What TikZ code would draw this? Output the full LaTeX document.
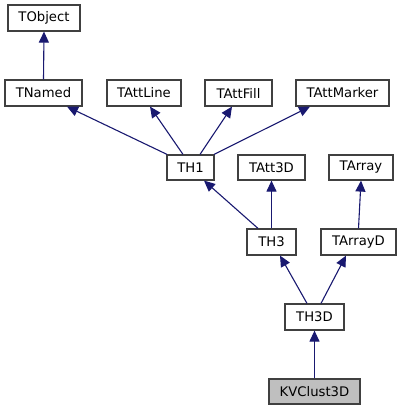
\documentclass[tikz,border=0pt]{standalone}
\usepackage{fontspec}
\setmainfont{DejaVu Sans}
\usetikzlibrary{arrows.meta}
\definecolor{edgec}{HTML}{191970}
\definecolor{boxc}{HTML}{404040}
\begin{document}
\begin{tikzpicture}[x=1pt,y=-1pt,
  cls/.style={draw=boxc,line width=1.2pt,fill=white,minimum height=26pt,inner sep=0pt,font=\fontsize{13.2}{15}\selectfont},
  inh/.style={draw=edgec,line width=1.1pt,-{Triangle[length=11pt,width=10pt]},shorten >=0pt}]
\useasboundingbox (0,0) rectangle (401,411);
\node[cls,minimum width=72pt] (TObject) at (44,18) {TObject};
\node[cls,minimum width=77pt] (TNamed) at (43.5,93) {TNamed};
\node[cls,minimum width=74pt] (TAttLine) at (144,93) {TAttLine};
\node[cls,minimum width=67pt] (TAttFill) at (238.5,93) {TAttFill};
\node[cls,minimum width=93pt] (TAttMarker) at (342.5,93) {TAttMarker};
\node[cls,minimum width=47pt,minimum height=25pt] (TH1) at (190.5,167.5) {TH1};
\node[cls,minimum width=67pt,minimum height=25pt] (TAtt3D) at (271.5,167.5) {TAtt3D};
\node[cls,minimum width=64pt,minimum height=25pt] (TArray) at (361,167.5) {TArray};
\node[cls,minimum width=49pt] (TH3) at (271.5,242) {TH3};
\node[cls,minimum width=75pt] (TArrayD) at (358.5,242) {TArrayD};
\node[cls,minimum width=59pt] (TH3D) at (314.5,317) {TH3D};
\node[cls,minimum width=91pt,minimum height=25pt,fill=black!25] (KVClust3D) at (314.5,391.5) {KVClust3D};
\draw[inh] (TNamed.north) -- (TObject.south);
\draw[inh] ([xshift=-23.5pt]TH1.north) -- ([xshift=23.5pt]TNamed.south);
\draw[inh] ([xshift=-7.5pt]TH1.north) -- ([xshift=6pt]TAttLine.south);
\draw[inh] ([xshift=9.5pt]TH1.north) -- ([xshift=-6.5pt]TAttFill.south);
\draw[inh] ([xshift=23.5pt]TH1.north) -- ([xshift=-32.5pt]TAttMarker.south);
\draw[inh] ([xshift=-13.5pt]TH3.north) -- ([xshift=13.5pt]TH1.south);
\draw[inh] (TH3.north) -- (TAtt3D.south);
\draw[inh] (TArrayD.north) -- (TArray.south);
\draw[inh] ([xshift=-7.5pt]TH3D.north) -- ([xshift=8.5pt]TH3.south);
\draw[inh] ([xshift=6.5pt]TH3D.north) -- ([xshift=-12.5pt]TArrayD.south);
\draw[inh] (KVClust3D.north) -- (TH3D.south);
\end{tikzpicture}
\end{document}
